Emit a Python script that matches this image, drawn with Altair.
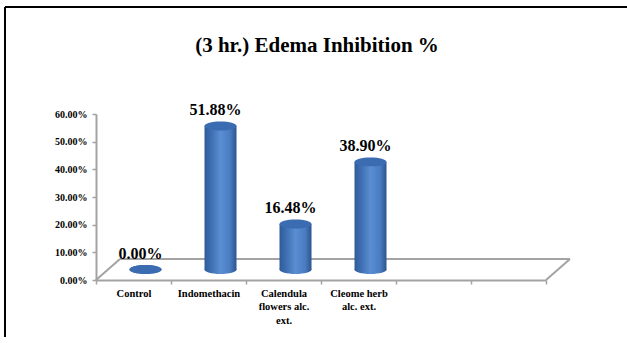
import altair as alt
import pandas as pd

# ---- data -------------------------------------------------------------
categories = [
    "Control",
    "Indomethacin",
    "Calendula|flowers alc.|ext.",
    "Cleome herb|alc. ext.",
]
inhibition_pct = [0.00, 51.88, 16.48, 38.90]
empty_slots = [" ", "  "]          # two unused category positions on the floor
y_ticks = [0.0, 0.1, 0.2, 0.3, 0.4, 0.5, 0.6]

title_text = "(3 hr.) Edema Inhibition %"

# ---- layout constants -------------------------------------------------
PAD_L, PAD_T, PAD_R, PAD_B = 96, 114, 81, 57
W, H = 450, 166                    # plot area (front floor edge = bottom)
DEPTH_X, DEPTH_Y = 24, 21          # 3-D depth of the floor
CYL_W = 32                         # cylinder diameter
SERIF = "Liberation Serif"
AXIS_GRAY = "#a3a3a3"

ELLIPSE = "M-1,0 A1,0.28 0 1,1 1,0 A1,0.28 0 1,1 -1,0 Z"

body_fill = alt.Gradient(
    gradient="linear", x1=0, x2=1, y1=0, y2=0,
    stops=[
        alt.GradientStop(color="#2f5b97", offset=0),
        alt.GradientStop(color="#3c6cb0", offset=0.18),
        alt.GradientStop(color="#5a8dd1", offset=0.5),
        alt.GradientStop(color="#4a7cc1", offset=0.8),
        alt.GradientStop(color="#2b558f", offset=1),
    ],
)

df = pd.DataFrame({"cat": categories, "pct": inhibition_pct})
domain = categories + empty_slots

xenc = alt.X(
    "cat:N",
    scale=alt.Scale(domain=domain, paddingInner=0, paddingOuter=0),
    axis=alt.Axis(
        title=None, labelAngle=0, labelExpr="split(datum.label, '|')",
        labelFont=SERIF, labelFontSize=10.5, labelFontWeight="bold",
        labelColor="black", labelBaseline="top", labelLineHeight=13.5,
        labelPadding=4, labelOverlap=False, tickBand="extent",
        tickColor=AXIS_GRAY, tickSize=4, tickWidth=1.5,
        domainColor=AXIS_GRAY, domainWidth=2,
    ),
)
yscale = alt.Scale(domain=[0, 0.6], nice=False)
yaxis = alt.Axis(
    title=None, values=y_ticks, format=".2%", grid=False,
    labelFont=SERIF, labelFontSize=10, labelFontWeight="bold",
    labelColor="black", labelPadding=5,
    tickColor=AXIS_GRAY, tickSize=4, tickWidth=1.5,
    domainColor=AXIS_GRAY, domainWidth=2,
)

base = alt.Chart(df).transform_calculate(
    frac="datum.pct / 100", zero="0", lbl="format(datum.pct / 100, '.2%')"
)

one = pd.DataFrame({"k": [0]})

# outer frame lines (top and left)
fx, fy = 5 - PAD_L, 7 - PAD_T
frame_top = alt.Chart(one).mark_rule(color="black", strokeWidth=2).encode(
    x=alt.value(fx), x2=alt.value(W + PAD_R), y=alt.value(fy), y2=alt.value(fy))
frame_left = alt.Chart(one).mark_rule(color="black", strokeWidth=2).encode(
    x=alt.value(fx), x2=alt.value(fx), y=alt.value(fy), y2=alt.value(H + PAD_B))

# chart title
title = alt.Chart(one).mark_text(
    text=title_text, font=SERIF, fontSize=21, fontWeight="bold", color="black",
    align="center", baseline="alphabetic",
).encode(x=alt.value(317 - PAD_L), y=alt.value(52 - PAD_T))

# 3-D floor outline (front edge is the x-axis domain)
floor_kw = dict(color=AXIS_GRAY, strokeWidth=2)
floor_left = alt.Chart(one).mark_rule(**floor_kw).encode(
    x=alt.value(0), y=alt.value(H), x2=alt.value(DEPTH_X), y2=alt.value(H - DEPTH_Y))
floor_back = alt.Chart(one).mark_rule(**floor_kw).encode(
    x=alt.value(DEPTH_X), y=alt.value(H - DEPTH_Y),
    x2=alt.value(W + DEPTH_X), y2=alt.value(H - DEPTH_Y))
floor_right = alt.Chart(one).mark_rule(**floor_kw).encode(
    x=alt.value(W + DEPTH_X), y=alt.value(H - DEPTH_Y), x2=alt.value(W), y2=alt.value(H))

off = dict(xOffset=DEPTH_X / 2, yOffset=-DEPTH_Y / 2)

cyl_bottom = base.mark_point(
    shape=ELLIPSE, size=CYL_W ** 2, filled=True, opacity=1, strokeWidth=0,
    color=body_fill, **off,
).encode(x=xenc, y=alt.Y("zero:Q", scale=yscale, axis=yaxis))

cyl_body = base.mark_bar(
    width=CYL_W, color=body_fill, y2Offset=-DEPTH_Y / 2, **off
).encode(x=xenc, y=alt.Y("frac:Q", scale=yscale, axis=yaxis))

cyl_top = base.mark_point(
    shape=ELLIPSE, size=CYL_W ** 2, filled=True, opacity=1, strokeWidth=0,
    color="#3b6bb0", **off,
).encode(x=xenc, y=alt.Y("frac:Q", scale=yscale, axis=yaxis))

value_labels = base.mark_text(
    font=SERIF, fontSize=16, fontWeight="bold", color="black",
    baseline="alphabetic", dx=7, dy=-21,
).encode(x=xenc, y=alt.Y("frac:Q", scale=yscale, axis=yaxis), text="lbl:N")

chart = alt.layer(
    frame_top, frame_left, title, floor_left, floor_back, floor_right,
    cyl_bottom, cyl_body, cyl_top, value_labels,
).properties(
    width=W, height=H,
    autosize=alt.AutoSizeParams(type="none"),
    padding={"left": PAD_L, "top": PAD_T, "right": PAD_R, "bottom": PAD_B},
).configure(
    background="white", view=alt.ViewConfig(stroke=None)
)

chart.save("out.html", embed_options={"renderer": "svg", "actions": False})
